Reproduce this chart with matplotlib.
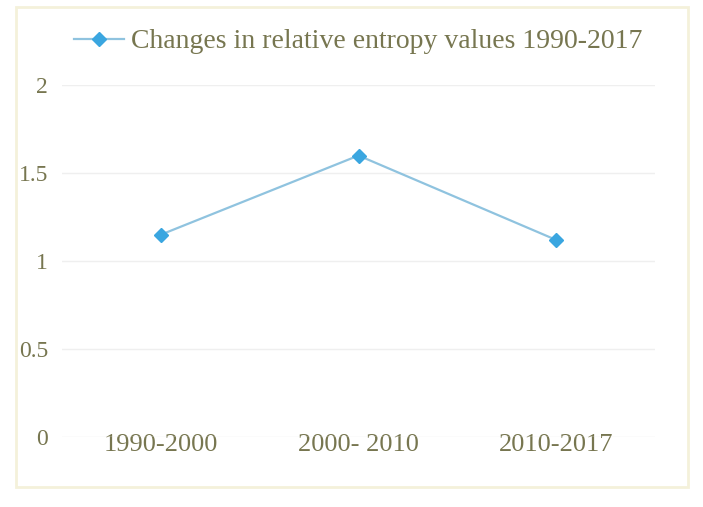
import matplotlib
matplotlib.use("Agg")
import matplotlib.pyplot as plt
from matplotlib.patches import Rectangle

periods = ["1990-2000", "2000- 2010", "2010-2017"]
entropy_change = [1.15, 1.60, 1.12]
y_ticks = [0, 0.5, 1, 1.5, 2]
y_tick_labels = ["0", "0.5", "1", "1.5", "2"]
series_label = "Changes in relative entropy values 1990-2017"

text_color = "#777650"
line_color = "#8fc3df"
marker_color = "#3aa6e0"
grid_color = "#efefef"

plt.rcParams["font.family"] = ["Liberation Serif", "DejaVu Serif"]

fig = plt.figure(figsize=(7.03, 5.07), dpi=100)
fig.patch.set_facecolor("white")

# faint chart-area frame
fig.patches.append(Rectangle((16 / 703, 20 / 507), 672 / 703, 480 / 507,
                             transform=fig.transFigure, fill=False,
                             edgecolor="#f4f1da", linewidth=2))

ax = fig.add_axes([0.088, 0.138, 0.844, 0.694])
x = range(len(periods))
ax.plot(x, entropy_change, color=line_color, linewidth=1.6,
        marker="D", markersize=7, markerfacecolor=marker_color,
        markeredgecolor=marker_color, label=series_label)

ax.set_xlim(-0.5, len(periods) - 0.5)
ax.set_ylim(0, 2)
ax.set_yticks(y_ticks)
ax.set_yticklabels(y_tick_labels)
ax.set_xticks(list(x))
ax.set_xticklabels(periods)
ax.tick_params(length=0, colors=text_color)
ax.tick_params(axis="y", pad=10, labelsize=17)
ax.tick_params(axis="x", pad=-2, labelsize=19)
for lbl in ax.get_xticklabels() + ax.get_yticklabels():
    lbl.set_color(text_color)
ax.yaxis.grid(True, color=grid_color, linewidth=1)
ax.set_axisbelow(True)
for s in ax.spines.values():
    s.set_visible(False)

leg = fig.legend(loc="center left", bbox_to_anchor=(0.07, 0.918),
                 frameon=False, fontsize=20, handlelength=1.8,
                 handletextpad=0.25)
for t in leg.get_texts():
    t.set_color(text_color)

fig.savefig("out.png", dpi=100, facecolor="white")
